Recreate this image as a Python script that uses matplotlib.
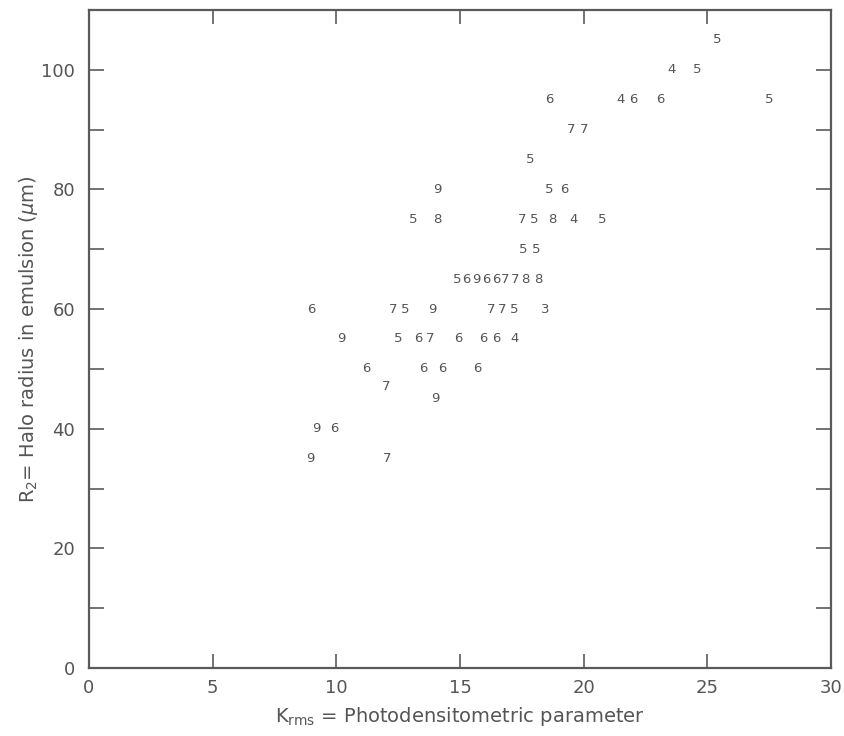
import matplotlib
matplotlib.use("Agg")
import matplotlib.pyplot as plt
from matplotlib.ticker import MultipleLocator

plt.rcParams['font.family'] = ['DejaVu Sans']
plt.rcParams['mathtext.fontset'] = 'dejavusans'

# K_rms values, halo radius R2 (um), and the digit plotted at each point
k_rms = [
    25.4,
    23.55, 24.6,
    18.6, 21.5, 22.0, 23.1, 27.5,
    19.5, 20.0,
    17.85,
    14.1, 18.6, 19.2,
    13.1, 14.1, 17.5, 18.0, 18.75, 19.6, 20.75,
    17.55, 18.1,
    14.88, 15.27, 15.66, 16.05, 16.45, 16.84, 17.23, 17.63, 18.16,
    9.0, 12.3, 12.8, 13.9, 16.25, 16.7, 17.2, 18.45,
    10.2, 12.5, 13.3, 13.8, 14.95, 15.95, 16.45, 17.2,
    11.2, 13.5, 14.27, 15.7,
    12.0, 14.0,
    9.2, 9.9,
    8.95, 12.05,
]
radius = [
    105,
    100, 100,
    95, 95, 95, 95, 95,
    90, 90,
    85,
    80, 80, 80,
    75, 75, 75, 75, 75, 75, 75,
    70, 70,
    65, 65, 65, 65, 65, 65, 65, 65, 65,
    60, 60, 60, 60, 60, 60, 60, 60,
    55, 55, 55, 55, 55, 55, 55, 55,
    50, 50, 50, 50,
    47, 45,
    40, 40,
    35, 35,
]
codes = [
    "5",
    "4", "5",
    "6", "4", "6", "6", "5",
    "7", "7",
    "5",
    "9", "5", "6",
    "5", "8", "7", "5", "8", "4", "5",
    "5", "5",
    "5", "6", "9", "6", "6", "7", "7", "8", "8",
    "6", "7", "5", "9", "7", "7", "5", "3",
    "9", "5", "6", "7", "6", "6", "6", "4",
    "6", "6", "6", "6",
    "7", "9",
    "9", "6",
    "9", "7",
]

gray = "#5a5a5a"
ink = "#555555"

fig = plt.figure(figsize=(8.44, 7.36), dpi=100)
ax = fig.add_axes([89 / 844, 68 / 736, (831 - 89) / 844, (726 - 68) / 736])

for x, y, c in zip(k_rms, radius, codes):
    ax.text(x, y, c, ha="center", va="center", fontsize=9.5, color=ink)

ax.set_xlim(0, 30)
ax.set_ylim(0, 110)

ax.xaxis.set_major_locator(MultipleLocator(5))
ax.yaxis.set_major_locator(MultipleLocator(20))
ax.yaxis.set_minor_locator(MultipleLocator(10))

ax.tick_params(axis="x", which="major", direction="in", length=10, width=1.2,
               color=gray, labelcolor=ink, labelsize=13, pad=8,
               top=True, labeltop=False)
ax.tick_params(axis="y", which="both", direction="in", length=11, width=1.2,
               color=gray, labelcolor=ink, labelsize=13, pad=10,
               right=True, labelright=False)

for s in ax.spines.values():
    s.set_color(gray)
    s.set_linewidth(1.6)

ax.set_xlabel(r"K$_{\rm rms}$ = Photodensitometric parameter",
              fontsize=14, color=ink, labelpad=6)
ax.set_ylabel(r"R$_2$= Halo radius in emulsion ($\mu$m)",
              fontsize=14, color=ink, labelpad=1)

fig.savefig("out.png", dpi=100)
